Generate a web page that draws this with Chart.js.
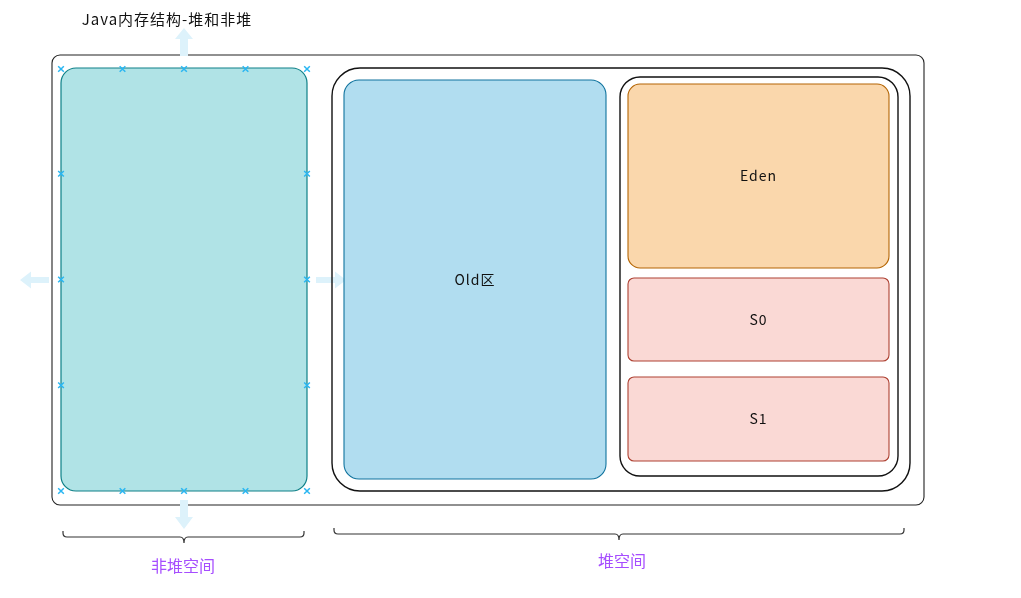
<!DOCTYPE html>
<html>
<head>
<meta charset="utf-8">
<script src="https://cdn.jsdelivr.net/npm/chart.js@4/dist/chart.umd.min.js"></script>
<style>
  body { margin: 0; background: #fff; }
  #wrap { width: 1021px; height: 598px; }
</style>
</head>
<body>
<div id="wrap"><canvas id="memChart" width="1021" height="598"></canvas></div>
<script>
// labels of the diagram
const chartTitle = 'Java内存结构-堆和非堆';
const regionNames = ['Old区', 'Eden', 'S0', 'S1'];
const spaceLabels = ['非堆空间', '堆空间'];

// layout in diagram units (x 0..1021, y 0..598): [x0, y0, x1, y1, radius]
const layout = {
  outer:   [52, 55, 924, 505, 8],
  nonHeap: [61, 68, 307, 491, 15],
  heap:    [332, 68, 910, 491, 28],
  old:     [344, 80, 606, 479, 15],
  young:   [620, 77, 898, 476, 20],
  eden:    [628, 84, 889, 268, 12],
  s0:      [628, 278, 889, 361, 6],
  s1:      [628, 377, 889, 461, 6]
};

// selection handles round the non-heap box
function handlePoints(b) {
  let pts = [];
  for (let i = 0; i <= 4; i += 1) {
    let x = b[0] + (b[2] - b[0]) * i / 4;
    pts.push({x: x, y: b[1] + 1});
    pts.push({x: x, y: b[3]});
  }
  for (let j = 1; j <= 3; j += 1) {
    let y = b[1] + (b[3] - b[1]) * j / 4;
    pts.push({x: b[0], y: y});
    pts.push({x: b[2], y: y});
  }
  return pts;
}

function box(ctx, sx, sy, b, fill, stroke, lw) {
  let x0 = sx(b[0]), y0 = sy(b[1]), x1 = sx(b[2]), y1 = sy(b[3]);
  ctx.beginPath();
  ctx.roundRect(x0, y0, x1 - x0, y1 - y0, b[4]);
  if (fill) { ctx.fillStyle = fill; ctx.fill(); }
  ctx.lineWidth = lw || 1;
  ctx.strokeStyle = stroke;
  ctx.stroke();
}

function text(ctx, str, x, y, font, color, spacing) {
  ctx.font = font;
  ctx.fillStyle = color;
  ctx.letterSpacing = spacing || '0px';
  ctx.textAlign = 'center';
  ctx.textBaseline = 'middle';
  ctx.fillText(str, x, y);
  ctx.letterSpacing = '0px';
}

// arrow: tip point, direction, length, shaft width, head width, head length
function arrow(ctx, sx, sy, tx, ty, dir, len, sw, hw, hl) {
  ctx.save();
  ctx.translate(sx(tx), sy(ty));
  ctx.rotate(dir);
  ctx.beginPath();
  ctx.moveTo(0, 0);
  ctx.lineTo(hl, -hw / 2);
  ctx.lineTo(hl, -sw / 2);
  ctx.lineTo(len, -sw / 2);
  ctx.lineTo(len, sw / 2);
  ctx.lineTo(hl, sw / 2);
  ctx.lineTo(hl, hw / 2);
  ctx.closePath();
  ctx.fillStyle = '#ddf2fb';
  ctx.fill();
  ctx.restore();
}

// curly brace opening upward: ends x0..x1 at top y, tip at mid
function brace(ctx, sx, sy, x0, x1, yTop, yLine, yTip, tipX) {
  let r = 4;
  ctx.beginPath();
  ctx.moveTo(sx(x0), sy(yTop));
  ctx.lineTo(sx(x0), sy(yLine) - r);
  ctx.quadraticCurveTo(sx(x0), sy(yLine), sx(x0) + r, sy(yLine));
  ctx.lineTo(sx(tipX) - r, sy(yLine));
  ctx.quadraticCurveTo(sx(tipX), sy(yLine), sx(tipX), sy(yTip));
  ctx.quadraticCurveTo(sx(tipX), sy(yLine), sx(tipX) + r, sy(yLine));
  ctx.lineTo(sx(x1) - r, sy(yLine));
  ctx.quadraticCurveTo(sx(x1), sy(yLine), sx(x1), sy(yLine) - r);
  ctx.lineTo(sx(x1), sy(yTop));
  ctx.lineWidth = 1.2;
  ctx.strokeStyle = '#333';
  ctx.stroke();
}

const diagramPlugin = {
  id: 'diagram',
  beforeDatasetsDraw(chart) {
    let ctx = chart.ctx;
    let sx = v => chart.scales.x.getPixelForValue(v);
    let sy = v => chart.scales.y.getPixelForValue(v);
    let font = '14px "Noto Sans CJK SC", "DejaVu Sans", sans-serif';
    ctx.save();

    text(ctx, chartTitle, sx(167), sy(19), '15px "Noto Sans CJK SC", "DejaVu Sans", sans-serif', '#111', '1px');

    box(ctx, sx, sy, layout.outer, '#fff', '#222', 1.1);

    // arrows round the selected box
    arrow(ctx, sx, sy, 184, 28, Math.PI / 2, 28, 8, 18, 11);
    arrow(ctx, sx, sy, 184, 529, -Math.PI / 2, 29, 8, 18, 12);
    arrow(ctx, sx, sy, 20, 280, 0, 29, 6, 17, 11);
    arrow(ctx, sx, sy, 346, 280, Math.PI, 30, 6, 17, 11);

    box(ctx, sx, sy, layout.nonHeap, '#b0e3e6', '#0e8088', 1.2);
    box(ctx, sx, sy, layout.heap, null, '#111', 1.4);
    box(ctx, sx, sy, layout.old, '#b1ddf0', '#10739e', 1.1);
    box(ctx, sx, sy, layout.young, null, '#111', 1.4);
    box(ctx, sx, sy, layout.eden, '#fad7ac', '#b46504', 1.1);
    box(ctx, sx, sy, layout.s0, '#fad9d5', '#ae4132', 1.1);
    box(ctx, sx, sy, layout.s1, '#fad9d5', '#ae4132', 1.1);

    let names = [layout.old, layout.eden, layout.s0, layout.s1];
    for (let i = 0; i < names.length; i += 1) {
      let b = names[i];
      text(ctx, regionNames[i], sx((b[0] + b[2]) / 2), sy((b[1] + b[3]) / 2), font, '#111', '1px');
    }

    // braces and space labels
    brace(ctx, sx, sy, 63, 304, 531, 537, 543, 184);
    brace(ctx, sx, sy, 334, 904, 528, 534, 540, 619);
    let labelFont = '16px "Noto Sans CJK SC", "DejaVu Sans", sans-serif';
    text(ctx, spaceLabels[0], sx(183), sy(566), labelFont, '#a64dff');
    text(ctx, spaceLabels[1], sx(622), sy(561), labelFont, '#a64dff');

    ctx.restore();
  }
};

var ctx = document.getElementById('memChart').getContext('2d');
var chart = new Chart(ctx, {
  type: 'scatter',
  data: {
    datasets: [{
      label: 'handles',
      data: handlePoints(layout.nonHeap),
      pointStyle: 'crossRot',
      pointRadius: 4,
      borderColor: '#29b6f2',
      borderWidth: 1.5,
      backgroundColor: '#29b6f2'
    }]
  },
  options: {
    responsive: false,
    animation: false,
    devicePixelRatio: 1,
    layout: { padding: 0, autoPadding: false },
    plugins: {
      legend: { display: false },
      tooltip: { enabled: false }
    },
    scales: {
      x: { type: 'linear', min: 0, max: 1021, display: false },
      y: { type: 'linear', min: 0, max: 598, reverse: true, display: false }
    }
  },
  plugins: [diagramPlugin]
});
</script>
</body>
</html>
